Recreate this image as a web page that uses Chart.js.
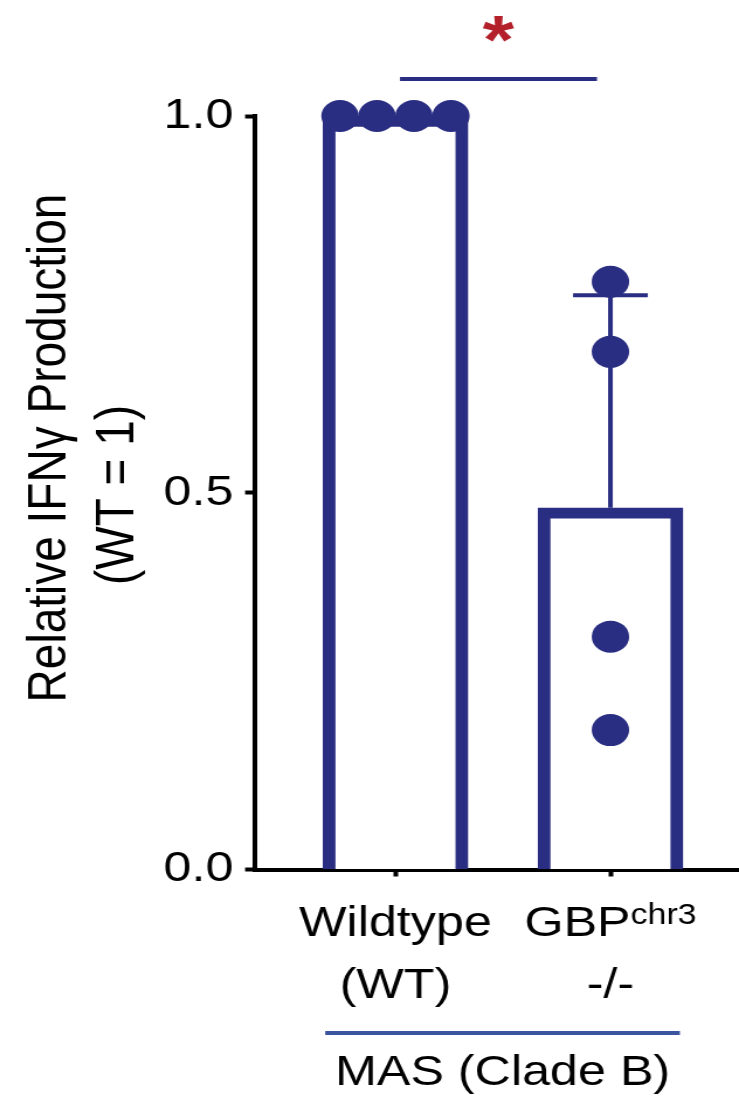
<!DOCTYPE html>
<html><head><meta charset="utf-8">
<script src="https://cdn.jsdelivr.net/npm/chart.js@4.4.1/dist/chart.umd.min.js"></script>
<style>
html,body{margin:0;padding:0;background:#fff;overflow:hidden;}
#wrap{width:632px;height:1100px;transform:scaleX(1.1693);transform-origin:0 0;}
canvas{display:block;}
</style></head><body>
<div id="wrap"><canvas id="c" width="632" height="1100"></canvas></div>
<script>
// ---- data ----
const categories = ['Wildtype (WT)', 'GBPchr3 -/-'];
const labelLine1 = ['Wildtype', 'GBP'];
const labelSup = ['', 'chr3'];
const labelLine2 = ['(WT)', '-/-'];
const groupLabel = 'MAS (Clade B)';
const barMeans = [1.0, 0.48];
const barSD = [0, 0.282];
const wtPoints = [1.0, 1.0, 1.0, 1.0];
const gbpPoints = [0.78, 0.687, 0.309, 0.185];
const yTicks = [0, 0.5, 1.0];
const yTitle = ['Relative IFN\u03b3 Production', '(WT = 1)'];
const sigLabel = '*';

// ---- style ----
const NAVY = '#2a2e82';
const FONT = '"Liberation Sans", Arial, Helvetica, sans-serif';
const dotSpread = 0.172;

function spreadPoints(values, idx) {
  const out = [];
  const groups = {};
  values.forEach(v => { groups[v] = (groups[v] || 0) + 1; });
  const seen = {};
  values.forEach(v => {
    const n = groups[v];
    const k = seen[v] || 0; seen[v] = k + 1;
    out.push({x: idx + (k - (n - 1) / 2) * dotSpread, y: v});
  });
  return out;
}
const scatterData = spreadPoints(wtPoints, 0).concat(spreadPoints(gbpPoints, 1));
const barData = barMeans.map((m, i) => ({x: i, y: m}));

const annot = {
  id: 'annot',
  afterDatasetDraw(chart, args) {
    if (args.index !== 0) return;
    const x = chart.scales.x, y = chart.scales.y, ctx = chart.ctx;
    ctx.save();
    ctx.strokeStyle = NAVY; ctx.lineWidth = 4; ctx.lineCap = 'butt';
    barMeans.forEach((m, i) => {
      const sd = barSD[i]; if (!sd) return;
      const px = x.getPixelForValue(i);
      const y0 = y.getPixelForValue(m), y1 = y.getPixelForValue(m + sd);
      ctx.beginPath();
      ctx.moveTo(px, y0); ctx.lineTo(px, y1);
      ctx.moveTo(px - 32, y1); ctx.lineTo(px + 32, y1);
      ctx.stroke();
    });
    ctx.restore();
  },
  afterDraw(chart) {
    const x = chart.scales.x, y = chart.scales.y, ctx = chart.ctx;
    ctx.save();
    // y axis title (two lines)
    ctx.fillStyle = '#000';
    ctx.font = '46px ' + FONT;
    ctx.textAlign = 'center'; ctx.textBaseline = 'middle';
    const titlePos = [[43, 448], [101.5, 495]];
    yTitle.forEach((t, i) => {
      ctx.save();
      ctx.translate(titlePos[i][0], titlePos[i][1]);
      ctx.rotate(-Math.PI / 2);
      ctx.fillText(t, 0, 0);
      ctx.restore();
    });
    // category labels
    const f1 = '43px ' + FONT, fs = '29px ' + FONT;
    ctx.textBaseline = 'alphabetic';
    categories.forEach((_, i) => {
      const cx = x.getPixelForValue(i);
      ctx.font = f1; const w1 = ctx.measureText(labelLine1[i]).width;
      ctx.font = fs; const ws = labelSup[i] ? ctx.measureText(labelSup[i]).width : 0;
      const sx = cx - (w1 + ws) / 2;
      ctx.textAlign = 'left';
      ctx.font = f1; ctx.fillText(labelLine1[i], sx, 936);
      if (ws) { ctx.font = fs; ctx.fillText(labelSup[i], sx + w1, 924); }
      ctx.font = f1; ctx.textAlign = 'center';
      ctx.fillText(labelLine2[i], cx, 998);
    });
    // group line + label
    const gx0 = x.getPixelForValue(-0.327), gx1 = x.getPixelForValue(1.323);
    ctx.strokeStyle = '#3a54a0'; ctx.lineWidth = 4;
    ctx.beginPath(); ctx.moveTo(gx0, 1033); ctx.lineTo(gx1, 1033); ctx.stroke();
    ctx.font = '43px ' + FONT; ctx.textAlign = 'center';
    ctx.fillText(groupLabel, (gx0 + gx1) / 2, 1085);
    // significance bar
    const sx0 = x.getPixelForValue(0.021), sx1 = x.getPixelForValue(0.9375);
    const sy = y.getPixelForValue(1.049);
    ctx.strokeStyle = NAVY; ctx.lineWidth = 4;
    ctx.beginPath(); ctx.moveTo(sx0, sy); ctx.lineTo(sx1, sy); ctx.stroke();
    ctx.fillStyle = '#b3202a';
    ctx.font = 'bold 64px ' + FONT;
    let m = ctx.measureText(sigLabel);
    const h = m.actualBoundingBoxAscent + m.actualBoundingBoxDescent;
    const size = 64 * 27 / h;
    ctx.font = 'bold ' + size + 'px ' + FONT;
    m = ctx.measureText(sigLabel);
    const cy = y.getPixelForValue(1.115);
    const base = cy + (m.actualBoundingBoxAscent - m.actualBoundingBoxDescent) / 2;
    ctx.textAlign = 'center';
    ctx.fillText(sigLabel, (sx0 + sx1) / 2, base);
    ctx.restore();
  }
};

new Chart(document.getElementById('c'), {
  type: 'bar',
  data: {
    datasets: [
      {
        type: 'bar', data: barData, order: 2,
        backgroundColor: '#ffffff', borderColor: NAVY, borderWidth: 11,
        borderSkipped: 'start', barThickness: 124
      },
      {
        type: 'scatter', data: scatterData, order: 1,
        pointRadius: 16, pointHoverRadius: 16, backgroundColor: NAVY,
        borderWidth: 0, clip: false, showLine: false
      }
    ]
  },
  options: {
    responsive: false, animation: false, devicePixelRatio: 1,
    layout: {autoPadding: false, padding: {top: 116, left: 0, right: 0, bottom: 0}},
    plugins: {legend: {display: false}, tooltip: {enabled: false}},
    scales: {
      x: {
        type: 'linear', min: -0.656, max: 1.598, offset: false,
        afterBuildTicks: a => { a.ticks = categories.map((_, i) => ({value: i})); },
        afterFit: a => { a.height = 230.5; a.paddingLeft = 0; a.paddingRight = 0; },
        ticks: {display: false},
        grid: {display: true, offset: false, drawOnChartArea: false, drawTicks: true, tickLength: 7, tickWidth: 4, tickColor: '#000', color: '#000'},
        border: {display: true, color: '#000', width: 4}
      },
      y: {
        min: 0, max: 1,
        afterBuildTicks: a => { a.ticks = yTicks.map(v => ({value: v})); },
        afterFit: a => { a.width = 217.6; },
        ticks: {callback: v => Number(v).toFixed(1), font: {family: FONT, size: 43}, color: '#000', padding: 10},
        grid: {drawOnChartArea: false, drawTicks: true, tickLength: 8, tickWidth: 4, tickColor: '#000'},
        border: {display: true, color: '#000', width: 4},
        title: {display: false}
      }
    }
  },
  plugins: [annot]
});
</script>
</body></html>
